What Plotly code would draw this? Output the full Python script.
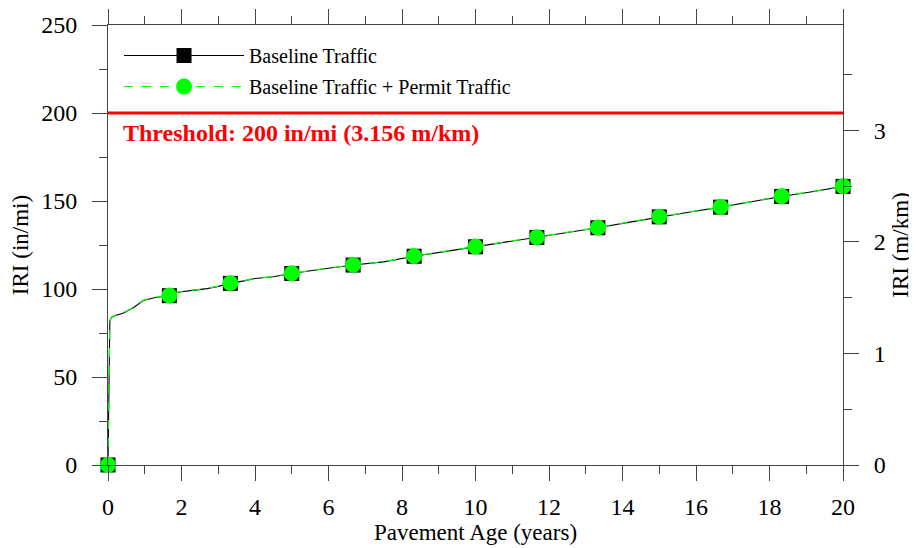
import plotly.graph_objects as go

# IRI prediction curves (in/mi) vs pavement age (years)
ages = [0, 0.02, 0.05, 0.1, 0.2, 0.42, 0.7, 0.96, 1.29, 1.67, 1.9, 2.3, 2.7, 3.0,
        3.33, 3.7, 4.0, 4.5, 5.0, 5.8, 6.67, 7.5, 8.33, 9.2, 10.0, 10.8, 11.67,
        12.5, 13.33, 14.2, 15.0, 15.8, 16.67, 17.5, 18.33, 19.2, 20.0]
iri_baseline = [0, 40, 82, 84, 85, 86.4, 89.5, 93.5, 95.2, 96.2, 98.2, 99.2, 100.2, 101.5,
                103.2, 104.6, 106.0, 107.0, 108.8, 111.2, 113.6, 115.4, 118.6, 121.4, 124.0,
                126.6, 129.3, 132.0, 134.8, 138.0, 141.0, 143.6, 146.5, 149.6, 152.6, 155.4, 158.3]
iri_permit = [0, 40, 82, 84, 85, 86.5, 89.6, 93.6, 95.3, 96.3, 98.3, 99.3, 100.3, 101.6,
              103.3, 104.7, 106.1, 107.1, 108.9, 111.3, 113.7, 115.5, 118.7, 121.5, 124.1,
              126.7, 129.4, 132.1, 134.9, 138.1, 141.1, 143.7, 146.6, 149.7, 152.7, 155.5, 158.4]

# marker positions (every 20 months)
marker_ages = [0, 1.67, 3.33, 5.0, 6.67, 8.33, 10.0, 11.67, 13.33, 15.0, 16.67, 18.33, 20.0]
marker_baseline = [0, 96.2, 103.2, 108.8, 113.6, 118.6, 124.0, 129.3, 134.8, 141.0, 146.5, 152.6, 158.3]
marker_permit = [0, 96.3, 103.3, 108.9, 113.7, 118.7, 124.1, 129.4, 134.9, 141.1, 146.6, 152.7, 158.4]

threshold = 200
IN_MI_PER_M_KM = 63.36

FONT = "Liberation Serif, Times New Roman, serif"
AXIS_COLOR = "#444444"

fig = go.Figure()

# baseline
fig.add_trace(go.Scatter(x=ages, y=iri_baseline, mode="lines",
                         line=dict(color="black", width=1.1), showlegend=False,
                         cliponaxis=False))
fig.add_trace(go.Scatter(x=marker_ages, y=marker_baseline, mode="markers",
                         marker=dict(symbol="square", size=15, color="black"),
                         showlegend=False, cliponaxis=False))
# baseline + permit
fig.add_trace(go.Scatter(x=ages, y=iri_permit, mode="lines",
                         line=dict(color="#00ff00", width=1.2, dash="dash"),
                         showlegend=False, cliponaxis=False))
fig.add_trace(go.Scatter(x=marker_ages, y=marker_permit, mode="markers",
                         marker=dict(symbol="circle", size=16, color="#00ff00"),
                         showlegend=False, cliponaxis=False))

# legend-only entries
fig.add_trace(go.Scatter(x=[None], y=[None], mode="lines+markers", name="Baseline Traffic",
                         legendgroup="a",
                         line=dict(color="black", width=1.1),
                         marker=dict(symbol="square", size=15, color="black")))
fig.add_trace(go.Scatter(x=[None], y=[None], mode="lines+markers",
                         name="Baseline Traffic + Permit Traffic", legendgroup="b",
                         line=dict(color="#00ff00", width=1.2, dash="dash"),
                         marker=dict(symbol="circle", size=16, color="#00ff00")))

# dummy trace to activate the right axis (m/km)
fig.add_trace(go.Scatter(x=[None], y=[None], yaxis="y2", showlegend=False))

fig.add_shape(type="line", xref="paper", x0=0, x1=1, yref="y", y0=threshold, y1=threshold,
              line=dict(color="red", width=3))
fig.add_annotation(xref="paper", x=0.018, yref="y", y=threshold, yshift=-20,
                   xanchor="left", yanchor="middle", showarrow=False,
                   text="<b>Threshold: 200 in/mi (3.156 m/km)</b>",
                   font=dict(family=FONT, size=24, color="red"))

tick_common = dict(ticks="outside", ticklen=15, tickwidth=1, tickcolor=AXIS_COLOR,
                   showline=True, linecolor=AXIS_COLOR, linewidth=1, showgrid=False,
                   zeroline=False, automargin=False,
                   tickfont=dict(family=FONT, size=24, color="black"))

# page body adds an 8px offset, so the figure is sized 8px smaller
fig.update_layout(
    width=909, height=540,
    margin=dict(l=100, r=74, t=17, b=83),
    paper_bgcolor="white", plot_bgcolor="white",
    font=dict(family=FONT, color="black"),
    xaxis=dict(range=[0, 20], dtick=2, mirror="ticks", ticklabelstandoff=5,
               minor=dict(dtick=1, ticks="outside", ticklen=8, tickcolor=AXIS_COLOR),
               title=dict(text="Pavement Age (years)", font=dict(family=FONT, size=23),
                          standoff=5),
               **tick_common),
    yaxis=dict(range=[0, 250], dtick=50, ticklabelstandoff=10,
               minor=dict(dtick=25, ticks="outside", ticklen=8, tickcolor=AXIS_COLOR),
               title=dict(text="IRI (in/mi)", font=dict(family=FONT, size=23), standoff=18),
               **tick_common),
    yaxis2=dict(range=[0, 250 / IN_MI_PER_M_KM], dtick=1, overlaying="y", side="right",
                ticklabelstandoff=10,
                minor=dict(dtick=0.5, ticks="outside", ticklen=8, tickcolor=AXIS_COLOR),
                title=dict(text="IRI (m/km)", font=dict(family=FONT, size=23), standoff=7),
                **tick_common),
    legend=dict(x=0.015, y=0.975, xanchor="left", yanchor="top",
                bgcolor="rgba(0,0,0,0)", itemwidth=120,
                font=dict(family=FONT, size=20), tracegroupgap=2),
)

fig.write_html("out.html")
